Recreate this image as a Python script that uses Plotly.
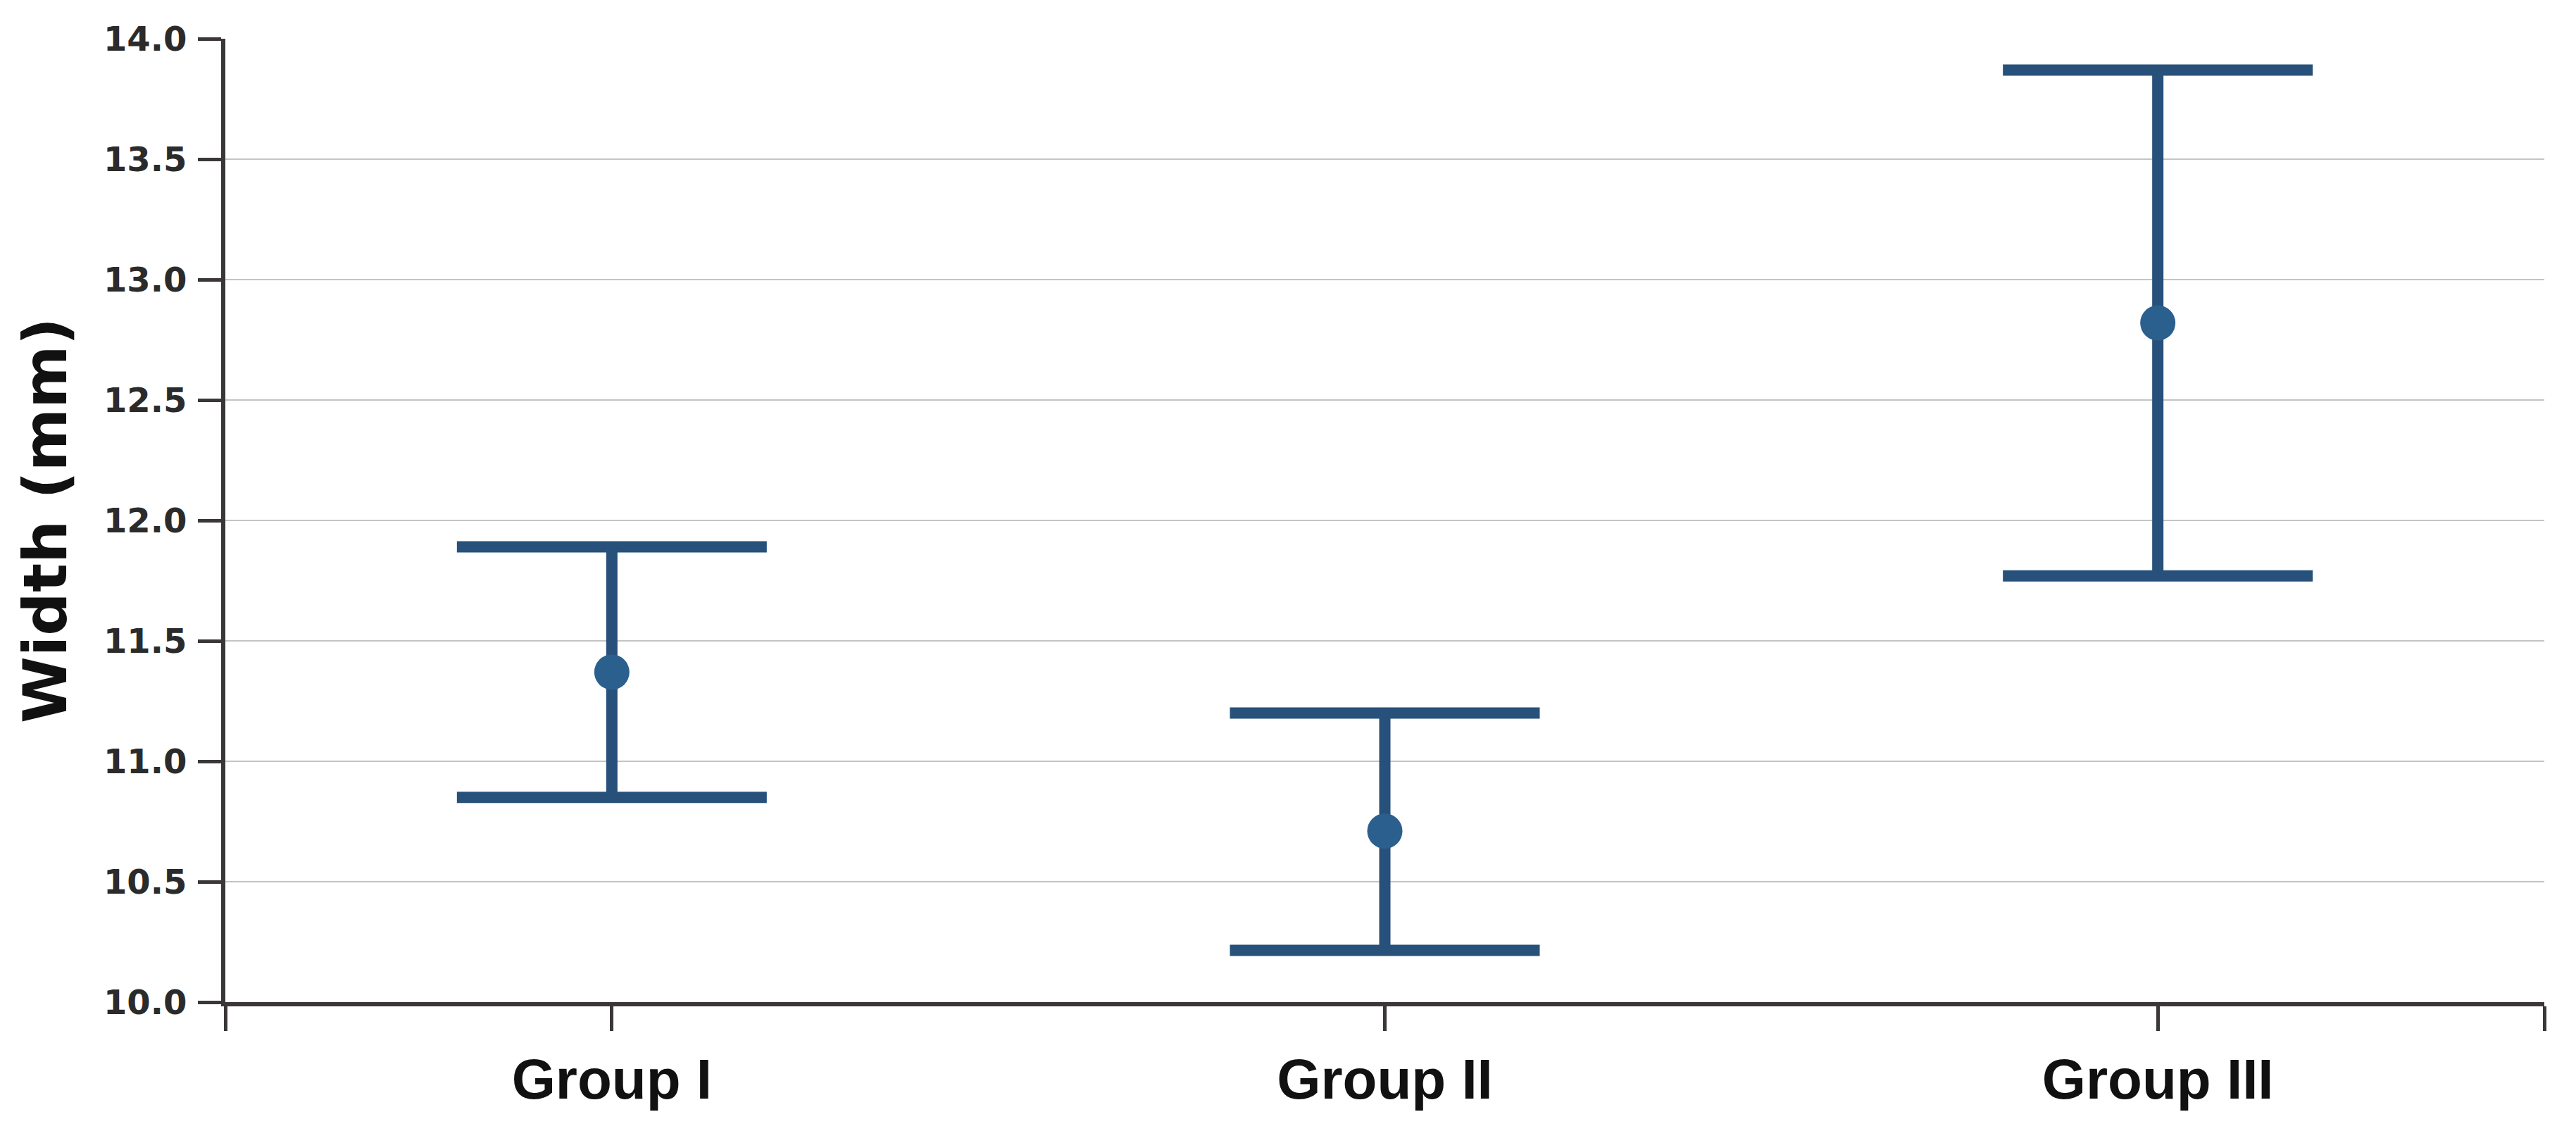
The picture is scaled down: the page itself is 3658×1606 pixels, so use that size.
import plotly.graph_objects as go

# Mean width with error range per group
groups = ["Group I", "Group II", "Group III"]
mean_width = [11.37, 10.71, 12.82]
err_plus = [0.52, 0.49, 1.05]
err_minus = [0.52, 0.495, 1.05]

y_ticks = [10.0, 10.5, 11.0, 11.5, 12.0, 12.5, 13.0, 13.5, 14.0]

positions = list(range(len(groups)))

AXIS = "#3b3737"
BAR = "#27507a"
DOT = "#2b5f8e"

fig = go.Figure()

fig.add_trace(
    go.Scatter(
        x=positions,
        y=mean_width,
        mode="markers",
        marker=dict(color=DOT, size=50, line=dict(width=0)),
        error_y=dict(
            type="data",
            symmetric=False,
            array=err_plus,
            arrayminus=err_minus,
            color=BAR,
            thickness=16,
            width=220,
        ),
        showlegend=False,
    )
)

# the page body has an 8px margin, so margins are shifted to compensate
fig.update_layout(
    width=3658,
    height=1606,
    plot_bgcolor="#FFFFFF",
    paper_bgcolor="#FFFFFF",
    margin=dict(l=312, r=53, t=47, b=191),
)

fig.update_xaxes(
    range=[-0.5, len(groups) - 0.5],
    tickvals=[-0.5] + positions + [len(groups) - 0.5],
    ticktext=[""] + groups + [""],
    showgrid=False,
    zeroline=False,
    showline=True,
    linecolor=AXIS,
    linewidth=6,
    ticks="outside",
    ticklen=35,
    tickwidth=5,
    tickcolor=AXIS,
    ticklabelstandoff=0,
    tickfont=dict(family="Liberation Sans", size=80, color="#111111", weight="bold"),
)

fig.update_yaxes(
    range=[10.0, 14.0],
    tickvals=y_ticks,
    ticktext=[f"{v:.1f}" for v in y_ticks],
    showgrid=True,
    gridcolor="#c4c4c4",
    gridwidth=2,
    zeroline=False,
    showline=True,
    linecolor=AXIS,
    linewidth=6,
    ticks="outside",
    ticklen=33,
    tickwidth=5,
    tickcolor=AXIS,
    ticklabelstandoff=6,
    tickfont=dict(family="DejaVu Sans", size=48, color="#2b2b2b", weight="bold"),
    title=dict(
        text="Width (mm)",
        font=dict(family="DejaVu Sans", size=86, color="#111111", weight="bold"),
        standoff=26,
    ),
)

fig.write_html("out.html")
